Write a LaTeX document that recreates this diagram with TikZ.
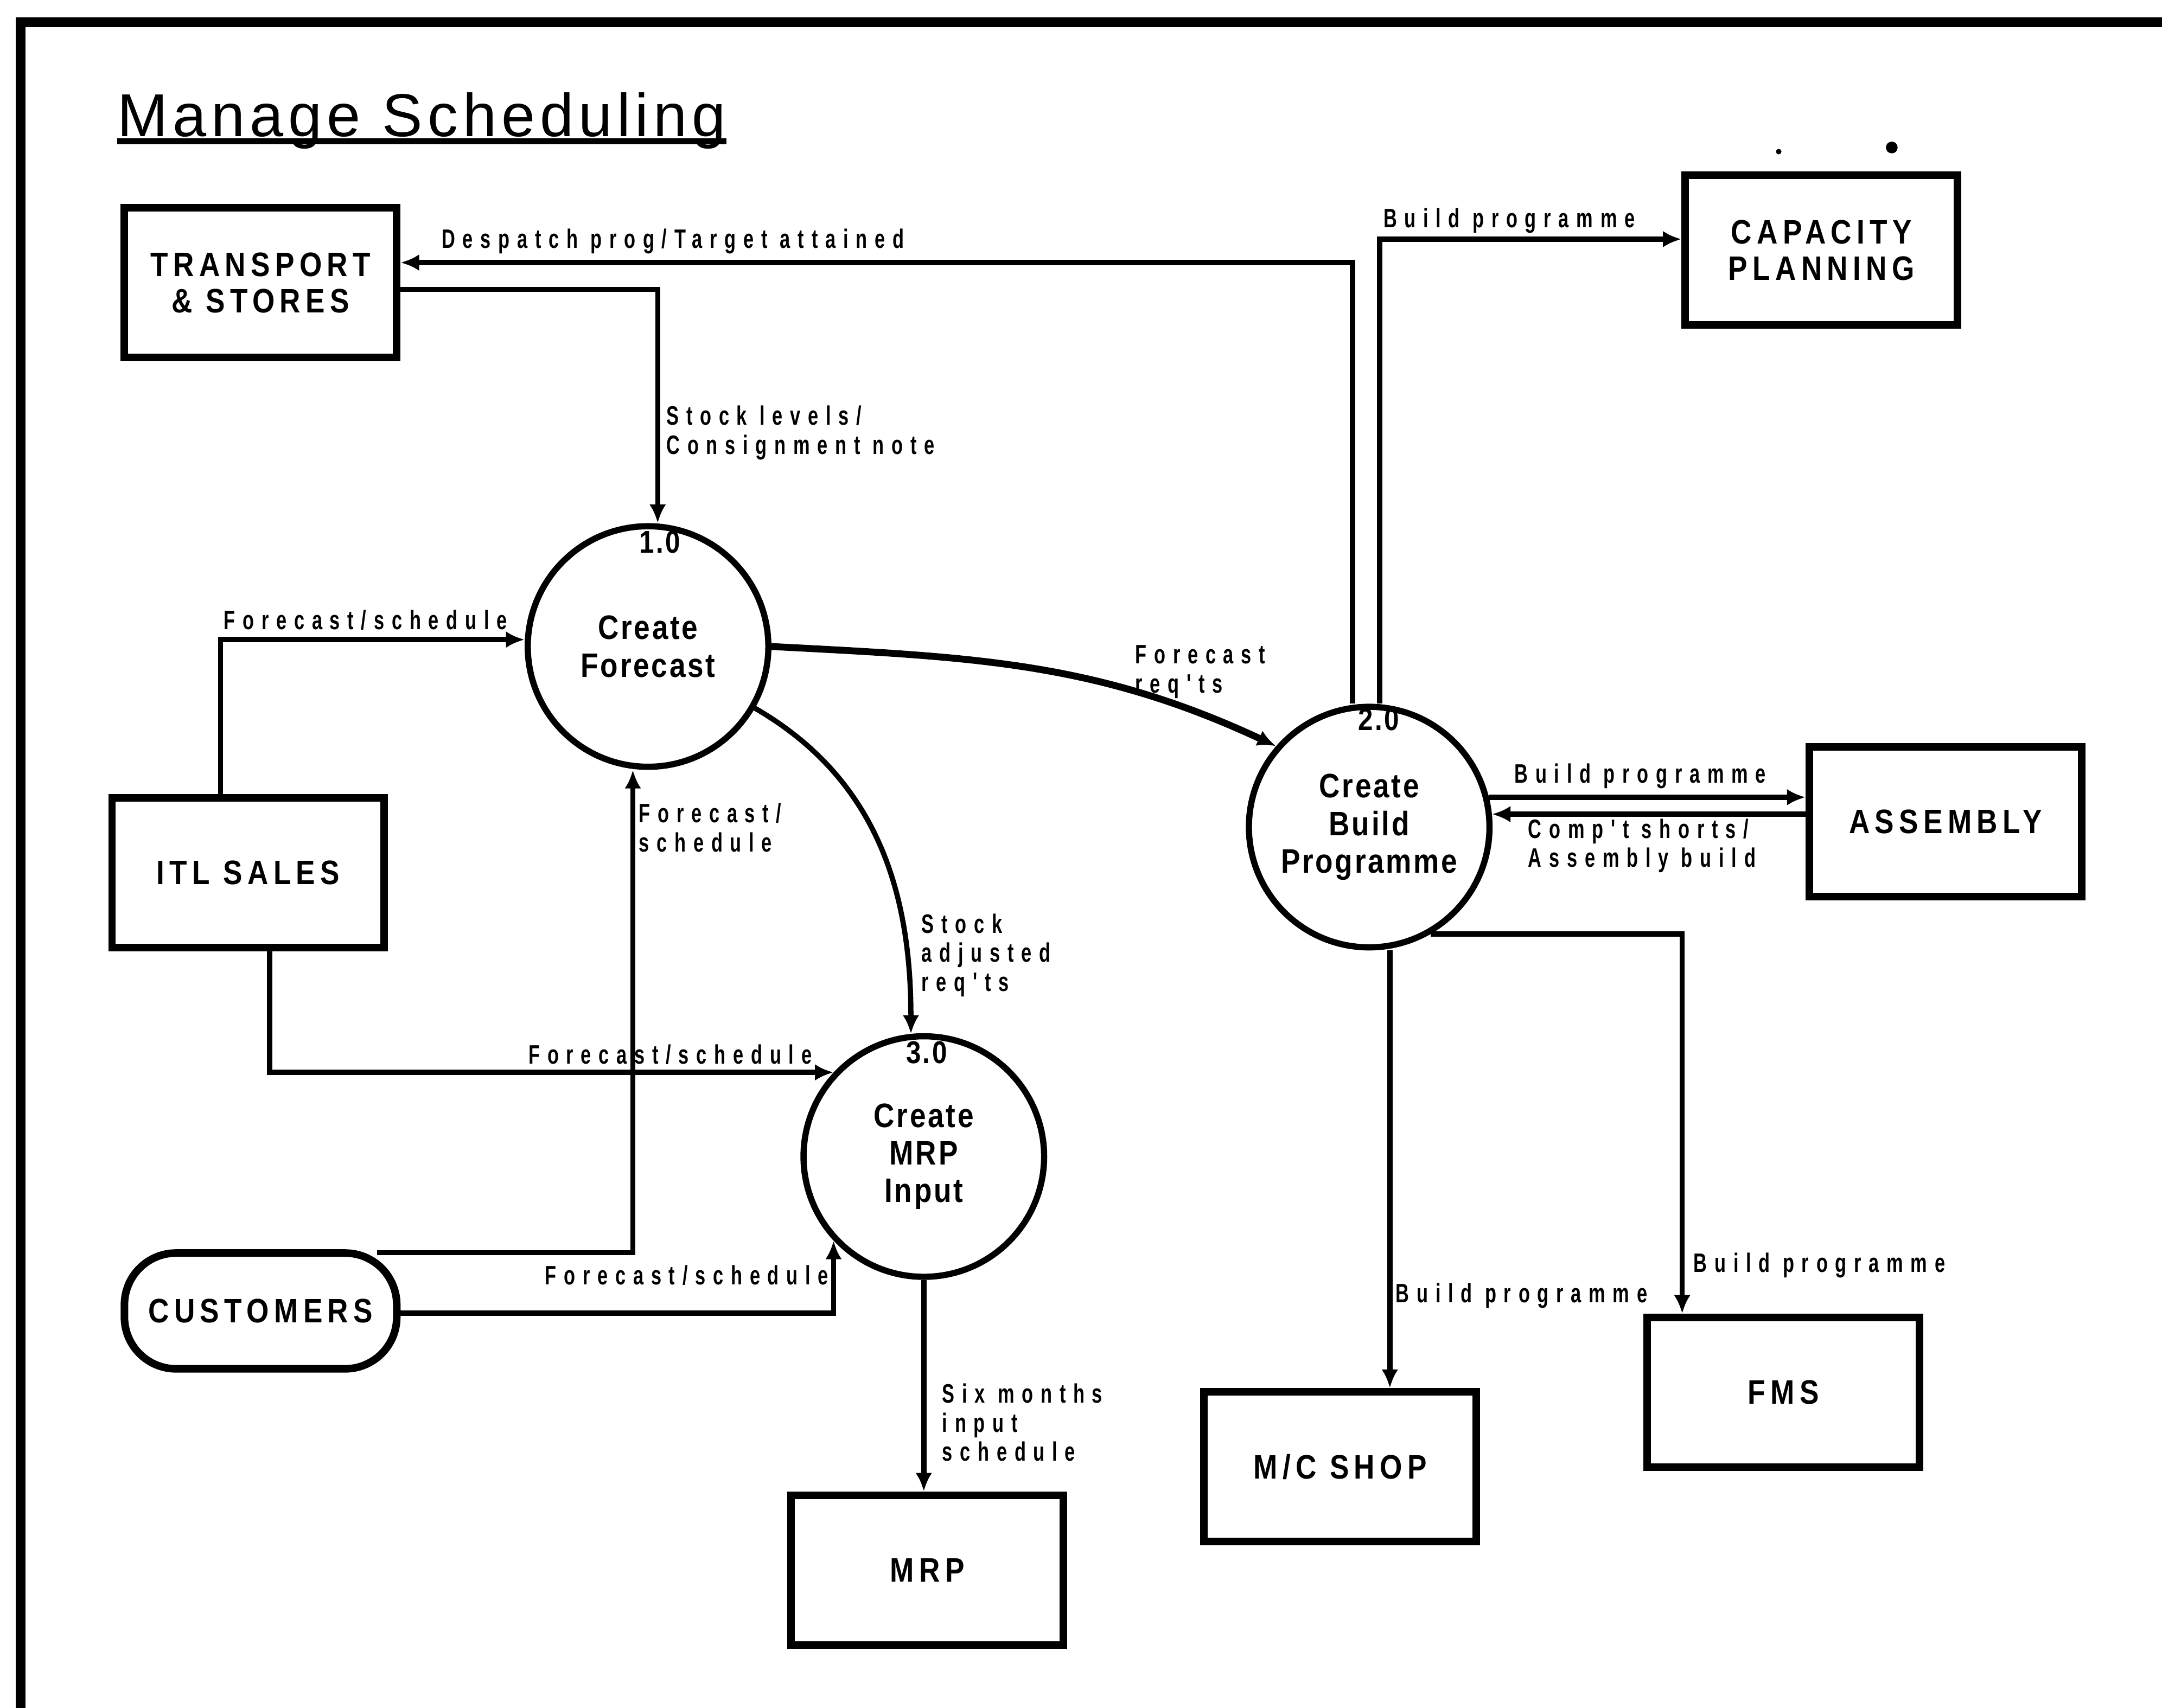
\documentclass[tikz,border=0pt]{standalone}
\usepackage{fontspec}
\usepackage{tikz}
\usetikzlibrary{arrows.meta}
\setmainfont{Liberation Sans}
\newfontfamily\boxfont[FakeStretch=0.85,LetterSpace=15]{Liberation Sans}
\newfontfamily\procfont[FakeStretch=0.85,LetterSpace=6]{Liberation Sans}
\newfontfamily\flowfont[FakeStretch=0.7,LetterSpace=28]{Liberation Sans}
\newfontfamily\titlefont[LetterSpace=8]{Liberation Sans}

\tikzset{
  frameline/.style={line width=1.4mm},
  extbox/.style={draw, line width=1.1mm, minimum width=39.5mm, minimum height=21.7mm,
    inner sep=0pt, align=center, font=\boxfont\bfseries\fontsize{14}{15}\selectfont},
  custbox/.style={extbox, rounded corners=7.5mm, minimum height=16.8mm},
  process/.style={draw, circle, line width=0.9mm, minimum size=34.9mm, inner sep=0pt,
    align=center, font=\procfont\bfseries\fontsize{14}{15.5}\selectfont},
  procnum/.style={anchor=north, inner sep=0pt, font=\procfont\bfseries\fontsize{13}{14}\selectfont},
  flow/.style={line width=0.75mm, -{Latex[length=2.7mm,width=2.4mm]}},
  flowlbl/.style={anchor=west, inner sep=0pt, align=left,
    font=\flowfont\bfseries\fontsize{11}{12}\selectfont},
  titletext/.style={anchor=base west, inner sep=0pt, font=\titlefont\fontsize{25}{28}\selectfont},
}

\begin{document}
\begin{tikzpicture}[x=0.2mm, y=-0.2mm]
  \useasboundingbox (0,0) rectangle (1568,1239);

  % sheet frame, only top and left edges
  \draw[frameline] (15,1239) -- (15,16) -- (1568,16);
  \fill (1290,110) circle (0.4mm);
  \fill (1372,107) circle (0.85mm);

  \node[titletext] (title) at (85,99) {Manage Scheduling};
  \draw[line width=0.8mm] ([yshift=-0.7mm]title.base west) -- ([yshift=-0.7mm]title.base east);

  % external entities
  \node[extbox] (trans) at (189,205) {TRANSPORT\\\& STORES};
  \node[extbox] (cap) at (1321,181.5) {CAPACITY\\PLANNING};
  \node[extbox] (itl) at (180,633) {ITL SALES};
  \node[extbox] (asm) at (1411,596) {ASSEMBLY};
  \node[custbox] (cust) at (189,951) {CUSTOMERS};
  \node[extbox] (mrp) at (672.5,1139) {MRP};
  \node[extbox] (mcs) at (972,1064) {M/C SHOP};
  \node[extbox] (fms) at (1293.5,1010) {FMS};

  % processes
  \node[process] (c1) at (470,469) {Create\\Forecast};
  \node[process] (c2) at (993,600) {Create\\Build\\Programme};
  \node[process] (c3) at (670,839) {Create\\MRP\\Input};
  \node[procnum] (n1) at ([xshift=1.7mm,yshift=-1.1mm]c1.north) {1.0};
  \node[procnum] (n2) at ([xshift=1.4mm,yshift=-0.6mm]c2.north) {2.0};
  \node[procnum] (n3) at ([xshift=0.4mm,yshift=-1.1mm]c3.north) {3.0};

  % data flows
  \draw[flow] ([xshift=-2.4mm]c2.north) |- ([yshift=2.9mm]trans.east);
  \draw[flow] ([xshift=1.5mm]c2.north) |- ([yshift=1.6mm]cap.west);
  \draw[flow] ([yshift=-1mm]trans.east) -| ([xshift=1.4mm]c1.north);
  \draw[flow] ([xshift=-4mm]itl.north) |- ([yshift=1mm]c1.west);
  \draw[flow, line width=1mm] (c1.east) to[out=-3, in=155] (c2.139);
  \draw[flow] (c1.-30) to[out=-30, in=90] (c3.96);
  \draw[flow] ([xshift=-3.4mm,yshift=-0.5mm]cust.north east) -| ([xshift=-2.2mm]c1.south);
  \draw[flow] ([xshift=3.1mm]itl.south) |- (c3.137);
  \draw[flow] ([yshift=-0.3mm]cust.east) -| (c3.223);
  \draw[flow] (c3.south) -- (c3.south |- mrp.north);
  \draw[flow] (c2.14) -- (c2.14 -| asm.west);
  \draw[flow] (c2.6 -| asm.west) -- (c2.6);
  \coordinate (mcsin) at ([xshift=7.2mm]mcs.north);
  \draw[flow] (mcsin |- c2.south) -- (mcsin);
  \draw[flow] (c2.-60) -| ([xshift=-14.7mm]fms.north);

  % flow labels
  \node[flowlbl] (ldesp) at (320,175) {Despatch prog/Target attained};
  \node[flowlbl] (lcap) at (1003,160) {Build programme};
  \node[flowlbl] (lstock) at (483,314) {Stock levels/\\Consignment note};
  \node[flowlbl] (litl1) at (162,450) {Forecast/schedule};
  \node[flowlbl] (lreq) at (823,487.5) {Forecast\\req'ts};
  \node[flowlbl] (lcust1) at (463,600.5) {Forecast/\\schedule};
  \node[flowlbl] (ladj) at (668,693) {Stock\\adjusted\\req'ts};
  \node[flowlbl] (litl3) at (383,765) {Forecast/schedule};
  \node[flowlbl] (lcust3) at (395,925) {Forecast/schedule};
  \node[flowlbl] (lsix) at (683,1032) {Six months\\input\\schedule};
  \node[flowlbl] (lasm) at (1098,563) {Build programme};
  \node[flowlbl] (lshort) at (1108,613.5) {Comp't shorts/\\Assembly build};
  \node[flowlbl] (lmcs) at (1012,940) {Build programme};
  \node[flowlbl] (lfms) at (1228,918) {Build programme};
\end{tikzpicture}
\end{document}
